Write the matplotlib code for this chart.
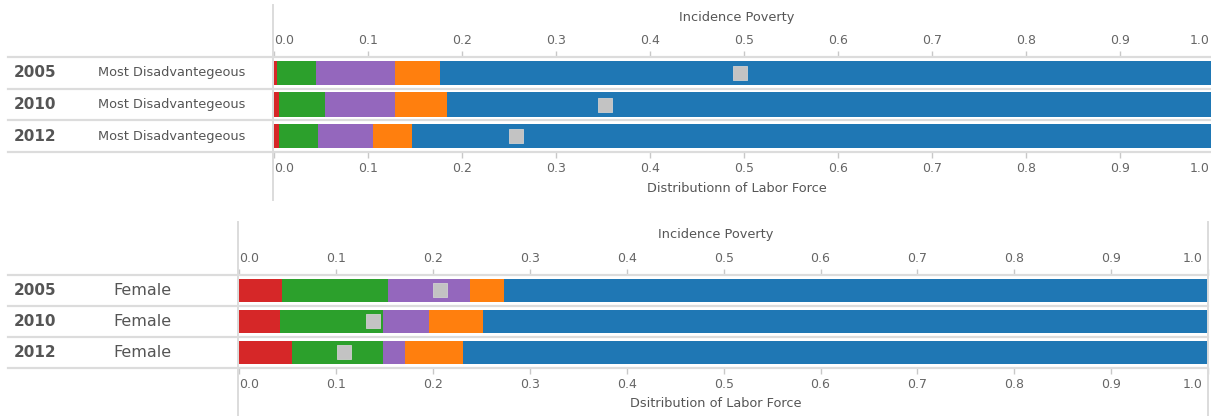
import matplotlib.pyplot as plt
import matplotlib.transforms as mtransforms
from matplotlib.lines import Line2D

W, H = 1211, 416

years = ["2005", "2010", "2012"]
segment_colors = ["#d62728", "#2ca02c", "#9467bd", "#ff7f0e", "#1f77b4"]
ticks = [0.0, 0.1, 0.2, 0.3, 0.4, 0.5, 0.6, 0.7, 0.8, 0.9, 1.0]

# Most Disadvantegeous: labor force shares per segment, one list per segment
dis_red = [0.003, 0.005, 0.005]
dis_green = [0.041, 0.049, 0.041]
dis_purple = [0.084, 0.074, 0.059]
dis_orange = [0.048, 0.056, 0.042]
dis_blue = [0.824, 0.816, 0.853]
dis_poverty = [0.495, 0.352, 0.257]

# Female
fem_red = [0.044, 0.042, 0.054]
fem_green = [0.110, 0.106, 0.094]
fem_purple = [0.084, 0.048, 0.023]
fem_orange = [0.035, 0.056, 0.060]
fem_blue = [0.727, 0.748, 0.769]
fem_poverty = [0.207, 0.138, 0.108]

plt.rcParams["font.family"] = ["DejaVu Sans"]

fig = plt.figure(figsize=(W / 100, H / 100), dpi=100)
fig.patch.set_facecolor("white")

GRID = "#dcdcdc"
TXT = "#555555"


def fx(px):
    return px / W


def fy(py):
    return 1 - py / H


def fig_line(x0, y0, x1, y1, lw=1.6):
    fig.add_artist(Line2D([fx(x0), fx(x1)], [fy(y0), fy(y1)],
                          transform=fig.transFigure, color=GRID, lw=lw))


def panel(left, right_at_one, top, bottom, segs, poverty, group, group_x, group_size,
          top_label, bottom_label, vline, right_line=None):
    ax = fig.add_axes([fx(left), fy(bottom), fx(right_at_one) - fx(left), fy(top) - fy(bottom)])
    rows = list(range(len(years)))
    start = [0.0] * len(years)
    for vals, col in zip(segs, segment_colors):
        ax.barh(rows, vals, left=start, height=0.76, color=col, linewidth=0)
        start = [s + v for s, v in zip(start, vals)]
    ax.scatter(poverty, rows, marker="s", s=95, color="#c3c3c3",
               edgecolor="#d0d0d0", linewidth=0.6, zorder=3)

    ax.set_xlim(0, 1)
    ax.set_ylim(len(years) - 0.5, -0.5)
    for s in ax.spines.values():
        s.set_visible(False)
    ax.set_yticks([])
    ax.set_xticks(ticks)
    ax.set_xticklabels(["%.1f" % t for t in ticks])
    ax.tick_params(axis="x", top=True, labeltop=True, bottom=True, labelbottom=True,
                   length=4.5, width=1, color="#c8c8c8", labelcolor="#666666",
                   labelsize=9, pad=3)

    # keep the end labels inside the panel
    shift = mtransforms.ScaledTranslation(-5 / 100, 0, fig.dpi_scale_trans)
    for tk in (ax.xaxis.get_major_ticks()[0],):
        tk.label1.set_horizontalalignment("left")
        tk.label2.set_horizontalalignment("left")
    last = ax.xaxis.get_major_ticks()[-1]
    for lab in (last.label1, last.label2):
        lab.set_horizontalalignment("right")
        lab.set_transform(lab.get_transform() + shift)

    ax.text(0.492, 1.0 + 40 / (bottom - top), top_label, transform=ax.transAxes,
            ha="center", va="center", fontsize=9.3, color="#555555")
    ax.text(0.492, -36 / (bottom - top), bottom_label, transform=ax.transAxes,
            ha="center", va="center", fontsize=9.3, color="#555555")

    # row separators across the whole panel
    row_h = (bottom - top) / len(years)
    for i in range(len(years) + 1):
        y = top + i * row_h
        fig_line(8, y, W if right_line is None else right_line, y, lw=1.6)

    # row labels
    for i, yr in enumerate(years):
        yc = top + (i + 0.5) * row_h
        fig.text(fx(14), fy(yc), yr, ha="left", va="center", fontsize=11,
                 fontweight="bold", color=TXT)
        fig.text(fx(group_x), fy(yc), group, ha="left", va="center",
                 fontsize=group_size, color=TXT)

    fig_line(vline[0], vline[1], vline[0], vline[2], lw=1.4)
    if right_line is not None:
        fig_line(right_line, vline[1], right_line, vline[2], lw=1.4)
    return ax


panel(274.3, 1214.3, 57, 152,
      [dis_red, dis_green, dis_purple, dis_orange, dis_blue], dis_poverty,
      "Most Disadvantegeous", 98, 9.3,
      "Incidence Poverty", "Distributionn of Labor Force", (273, 5, 200))

panel(239.3, 1208, 275, 367.7,
      [fem_red, fem_green, fem_purple, fem_orange, fem_blue], fem_poverty,
      "Female", 113, 11.5,
      "Incidence Poverty", "Dsitribution of Labor Force", (238, 222, 416),
      right_line=1207.5)

fig.savefig("out.png", dpi=100, facecolor="white")
